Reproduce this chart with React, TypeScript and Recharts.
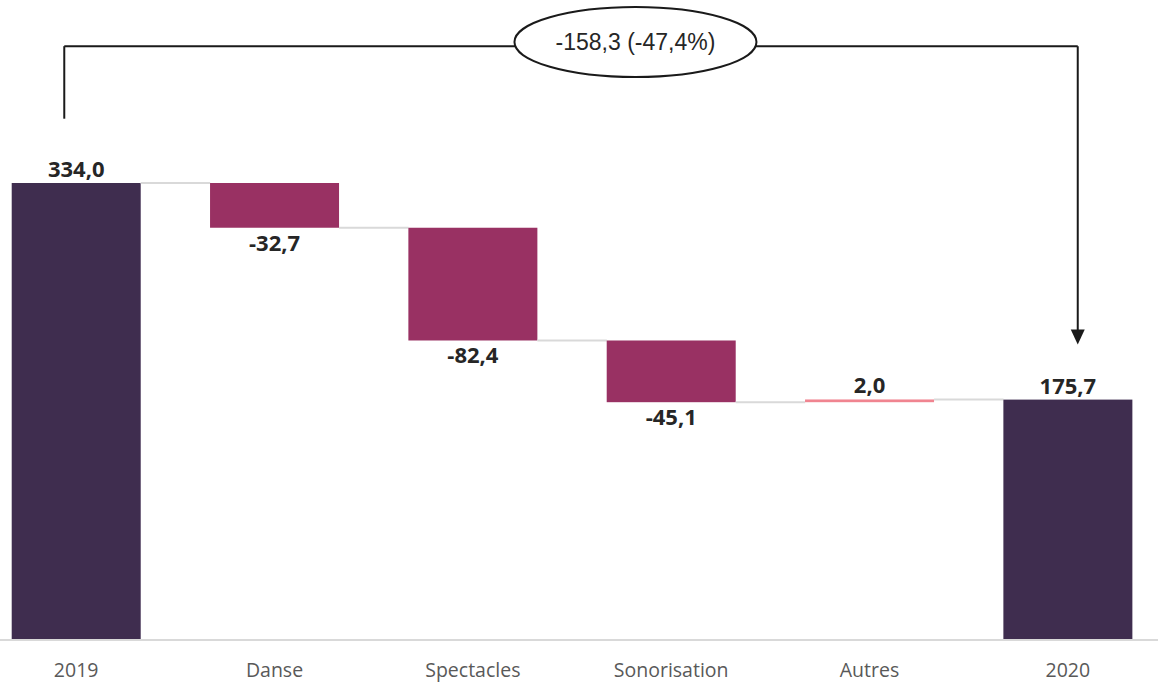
import { BarChart, Bar, XAxis, YAxis, ReferenceLine, ReferenceDot } from "recharts";

const categories = ["2019", "Danse", "Spectacles", "Sonorisation", "Autres", "2020"];
const changes = [334.0, -32.7, -82.4, -45.1, 2.0, 175.7];
const isTotal = [true, false, false, false, false, true];

// bracket annotation (numeric x = category index, y in chart units)
const bracketText = "-158,3 (-47,4%)";
const bracketLeftX = -0.06;
const bracketRightX = 5.05;
const bracketLabelX = 2.82;
const bracketTopY = 434;
const bracketStartY = 381;
const bracketEndY = 216;

const COLORS = { total: "#3f2d4f", down: "#993163", up: "#f08490" };
const GAP = 0.175;

type Row = { name: string; idx: number; base: number; delta: number; change: number; total: boolean; last: boolean };

const rows: Row[] = [];
let running = 0;
categories.forEach((name, i) => {
  const v = changes[i];
  if (isTotal[i]) {
    rows.push({ name, idx: i, base: 0, delta: v, change: v, total: true, last: i === categories.length - 1 });
    running = v;
  } else {
    rows.push({ name, idx: i, base: Math.min(running, running + v), delta: Math.abs(v), change: v, total: false, last: false });
    running += v;
  }
});

const fmt = (v: number) => v.toFixed(1).replace(".", ",");

function StepBar(props: any) {
  const { x, y, width, height, payload } = props;
  const p = payload as Row;
  const down = !p.total && p.change < 0;
  const fill = p.total ? COLORS.total : down ? COLORS.down : COLORS.up;
  const level = down ? y + height : y;
  const gap = (width * 2 * GAP) / (1 - 2 * GAP);
  const labelY = down ? y + height + 23 : y - 6;
  return (
    <g>
      <rect x={x} y={y} width={width} height={Math.max(height, 2)} fill={fill} />
      {!p.last && (
        <line x1={x + width} x2={x + width + gap} y1={level} y2={level} stroke="#d9d9d9" strokeWidth={2} />
      )}
      <text
        x={x + width / 2}
        y={labelY}
        textAnchor="middle"
        fontFamily="Open Sans"
        fontWeight="bold"
        fontSize={22}
        fill="#262626"
      >
        {fmt(p.change)}
      </text>
    </g>
  );
}

function Tick(props: any) {
  const { x, y, payload } = props;
  return (
    <text x={x} y={y + 37} textAnchor="middle" fontFamily="Open Sans" fontSize={19.5} fill="#595959">
      {payload.value}
    </text>
  );
}

function Arrow(props: any) {
  const { x1, y1, x2, y2 } = props;
  return (
    <g>
      <line x1={x1} y1={y1} x2={x2} y2={y2 - 14} stroke="#1a1a1a" strokeWidth={2} />
      <polygon points={`${x2 - 7},${y2 - 15} ${x2 + 7},${y2 - 15} ${x2},${y2}`} fill="#1a1a1a" />
    </g>
  );
}

function Bubble(props: any) {
  const { cx, cy } = props;
  return (
    <g>
      <ellipse cx={cx} cy={cy} rx={121} ry={35} fill="#fff" stroke="#1a1a1a" strokeWidth={2} />
      <text x={cx} y={cy + 8} textAnchor="middle" fontFamily="Liberation Sans" fontSize={23} fill="#262626">
        {bracketText}
      </text>
    </g>
  );
}

export default function App() {
  return (
    <div style={{ position: "fixed", left: 0, top: 0, width: 1158, height: 686, overflow: "hidden", background: "#fff" }}>
      <div style={{ marginLeft: -22.7 }}>
        <BarChart
          width={1190}
          height={686}
          data={rows}
          margin={{ top: 10.6, right: 0, bottom: 0, left: 0 }}
          barCategoryGap="17.5%"
        >
          <XAxis
            dataKey="name"
            height={46}
            tickLine={false}
            tickSize={0}
            tickMargin={0}
            axisLine={{ stroke: "#d9d9d9", strokeWidth: 2 }}
            tick={<Tick />}
            interval={0}
          />
          <XAxis xAxisId="n" dataKey="idx" type="number" domain={[-0.5, 5.5]} hide allowDataOverflow />
          <YAxis domain={[0, 460]} hide allowDataOverflow />
          <Bar dataKey="base" stackId="w" fill="transparent" isAnimationActive={false} />
          <Bar dataKey="delta" stackId="w" shape={<StepBar />} isAnimationActive={false} />
          <ReferenceLine
            xAxisId="n"
            ifOverflow="visible"
            segment={[{ x: bracketLeftX, y: bracketStartY }, { x: bracketLeftX, y: bracketTopY }]}
            stroke="#1a1a1a"
            strokeWidth={2}
          />
          <ReferenceLine
            xAxisId="n"
            ifOverflow="visible"
            segment={[{ x: bracketLeftX, y: bracketTopY }, { x: bracketRightX, y: bracketTopY }]}
            stroke="#1a1a1a"
            strokeWidth={2}
          />
          <ReferenceLine
            xAxisId="n"
            ifOverflow="visible"
            segment={[{ x: bracketRightX, y: bracketTopY }, { x: bracketRightX, y: bracketEndY }]}
            shape={<Arrow />}
          />
          <ReferenceDot
            xAxisId="n"
            ifOverflow="visible"
            x={bracketLabelX}
            y={bracketTopY + 3}
            r={1}
            shape={<Bubble />}
          />
        </BarChart>
      </div>
    </div>
  );
}
